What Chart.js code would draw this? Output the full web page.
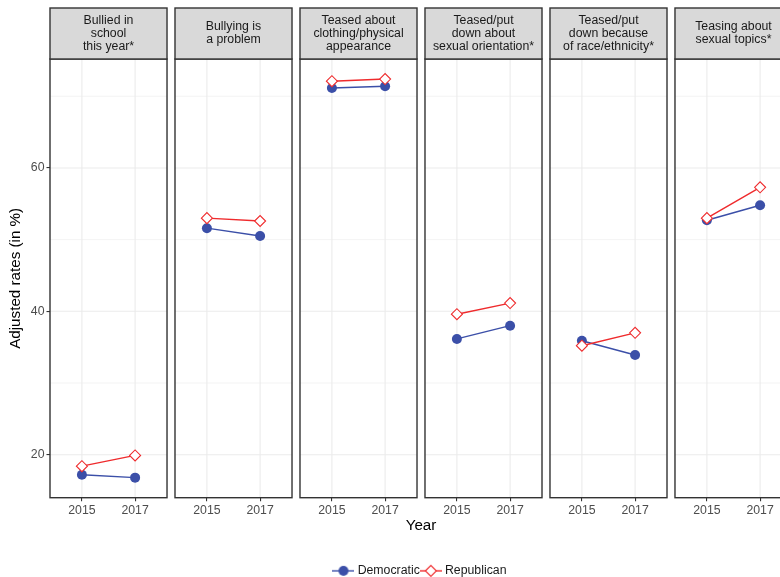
<!DOCTYPE html>
<html>
<head>
<meta charset="utf-8">
<script src="https://cdn.jsdelivr.net/npm/chart.js@4/dist/chart.umd.min.js"></script>
<style>
  html, body { margin: 0; padding: 0; background: #ffffff; overflow: hidden; }
  #wrap { position: relative; width: 792px; height: 577px; }
</style>
</head>
<body>
<div id="wrap"><canvas id="c" width="792" height="577"></canvas></div>
<script>
// ---- data ----
const panelTitles = [
  ["Bullied in", "school", "this year*"],
  ["Bullying is", "a problem"],
  ["Teased about", "clothing/physical", "appearance"],
  ["Teased/put", "down about", "sexual orientation*"],
  ["Teased/put", "down because", "of race/ethnicity*"],
  ["Teasing about", "sexual topics*"]
];
const years = ["2015", "2017"];
const democratic2015 = [17.2, 51.6, 71.15, 36.15, 35.9, 52.7];
const democratic2017 = [16.8, 50.5, 71.4, 38.0, 33.9, 54.8];
const republican2015 = [18.4, 53.0, 72.1, 39.6, 35.2, 53.0];
const republican2017 = [19.9, 52.6, 72.4, 41.15, 37.0, 57.3];
const yMajorTicks = [20, 40, 60];
const yMinorGrid = [30, 50, 70];
const seriesNames = ["Democratic", "Republican"];

// ---- layout in x data units (each panel is a discrete axis 0.4..2.6 shifted) ----
const PANEL_W = 2.2, PANEL_STEP = 2.35, POS = [0.6, 1.6];
const FONT = "'Liberation Sans', Arial, Helvetica, sans-serif";
const SMALL = 12.3, BIG = 15.2;
const BLUE = '#3b4fa8', RED = '#ef2b2d';

function seriesData(v15, v17) {
  const out = [];
  for (let i = 0; i < v15.length; i++) {
    out.push({x: i * PANEL_STEP + POS[0], y: v15[i]});
    out.push({x: i * PANEL_STEP + POS[1], y: v17[i]});
    out.push({x: i * PANEL_STEP + 2.0, y: null});
  }
  return out;
}
const xTickValues = [];
panelTitles.forEach((_, i) => { xTickValues.push(i * PANEL_STEP + POS[0], i * PANEL_STEP + POS[1]); });

function legendImg(color, kind) {
  const c = document.createElement('canvas');
  c.width = 22; c.height = 14;
  const g = c.getContext('2d');
  g.strokeStyle = color; g.lineWidth = 1.4;
  g.beginPath(); g.moveTo(0, 7); g.lineTo(22, 7); g.stroke();
  if (kind === 'circle') {
    g.fillStyle = color; g.beginPath(); g.arc(11, 7, 5, 0, Math.PI * 2); g.fill();
  } else {
    g.fillStyle = '#fff'; g.lineWidth = 1.1;
    g.beginPath(); g.moveTo(5.5, 7); g.lineTo(11, 1.5); g.lineTo(16.5, 7); g.lineTo(11, 12.5); g.closePath();
    g.fill(); g.stroke();
  }
  return c;
}
const legendImgs = [legendImg(BLUE, 'circle'), legendImg(RED, 'diamond')];

const facetPlugin = {
  id: 'facets',
  beforeDatasetsDraw(chart) {
    const {ctx, chartArea: a, scales: {x, y}} = chart;
    ctx.save();
    panelTitles.forEach((_, i) => {
      const l = x.getPixelForValue(i * PANEL_STEP), r = x.getPixelForValue(i * PANEL_STEP + PANEL_W);
      ctx.save();
      ctx.beginPath(); ctx.rect(l, a.top, r - l, a.bottom - a.top); ctx.clip();
      ctx.strokeStyle = '#ebebeb';
      ctx.lineWidth = 0.6;
      yMinorGrid.forEach(v => { const p = y.getPixelForValue(v); ctx.beginPath(); ctx.moveTo(l, p); ctx.lineTo(r, p); ctx.stroke(); });
      ctx.lineWidth = 1.1;
      yMajorTicks.forEach(v => { const p = y.getPixelForValue(v); ctx.beginPath(); ctx.moveTo(l, p); ctx.lineTo(r, p); ctx.stroke(); });
      POS.forEach(v => { const p = x.getPixelForValue(i * PANEL_STEP + v); ctx.beginPath(); ctx.moveTo(p, a.top); ctx.lineTo(p, a.bottom); ctx.stroke(); });
      ctx.restore();
    });
    ctx.restore();
  },
  afterDatasetsDraw(chart) {
    const {ctx, chartArea: a, scales: {x}} = chart;
    ctx.save();
    const stripTop = 8;
    panelTitles.forEach((lines, i) => {
      const l = x.getPixelForValue(i * PANEL_STEP), r = x.getPixelForValue(i * PANEL_STEP + PANEL_W);
      ctx.strokeStyle = '#333333'; ctx.lineWidth = 1.4;
      ctx.strokeRect(l, a.top, r - l, a.bottom - a.top);
      ctx.fillStyle = '#d9d9d9';
      ctx.fillRect(l, stripTop, r - l, a.top - stripTop);
      ctx.strokeRect(l, stripTop, r - l, a.top - stripTop);
      ctx.fillStyle = '#1a1a1a';
      ctx.font = SMALL + 'px ' + FONT;
      ctx.textAlign = 'center'; ctx.textBaseline = 'middle';
      const mid = (stripTop + a.top) / 2, cx = (l + r) / 2;
      lines.forEach((t, k) => ctx.fillText(t, cx, mid + (k - (lines.length - 1) / 2) * 13));
    });
    ctx.restore();
  }
};

new Chart(document.getElementById('c'), {
  type: 'line',
  data: {
    datasets: [
      {label: seriesNames[0], data: seriesData(democratic2015, democratic2017), borderColor: BLUE, backgroundColor: BLUE,
       borderWidth: 1.4, pointStyle: 'circle', pointRadius: 5, pointBorderWidth: 0, pointBackgroundColor: BLUE, spanGaps: false, order: 2},
      {label: seriesNames[1], data: seriesData(republican2015, republican2017), borderColor: RED, backgroundColor: '#ffffff',
       borderWidth: 1.4, pointStyle: 'rectRot', pointRadius: 5.5, pointBorderWidth: 1.1, pointBackgroundColor: '#ffffff', pointBorderColor: RED, spanGaps: false, order: 1}
    ]
  },
  options: {
    responsive: false, animation: false, devicePixelRatio: 1,
    layout: {autoPadding: false, padding: {top: 59, left: 0, right: 0, bottom: -10}},
    plugins: {
      tooltip: {enabled: false},
      legend: {
        position: 'bottom', fullSize: false,
        labels: {
          usePointStyle: true, pointStyleWidth: 16, boxHeight: 12, padding: 3,
          color: '#1a1a1a', font: {family: FONT, size: SMALL},
          generateLabels: () => seriesNames.map((n, k) => ({text: n, pointStyle: legendImgs[k], fillStyle: 'transparent', strokeStyle: 'transparent', lineWidth: 0, datasetIndex: k, fontColor: '#1a1a1a'}))
        }
      }
    },
    scales: {
      x: {
        type: 'linear', min: 0, max: 5 * PANEL_STEP + PANEL_W, bounds: 'data',
        afterBuildTicks: s => { s.ticks = xTickValues.map(v => ({value: v})); },
        afterFit: s => { s.height = 64; s.paddingLeft = 0; s.paddingRight = 0; },
        ticks: {autoSkip: false, maxRotation: 0, padding: 2, color: '#4d4d4d', font: {family: FONT, size: SMALL},
                callback: (v, idx) => years[idx % 2]},
        grid: {drawOnChartArea: false, drawTicks: true, tickLength: 3.5, color: '#333333', lineWidth: 1.1},
        border: {display: false},
        title: {display: true, text: 'Year', color: '#000', font: {family: FONT, size: BIG}, padding: {top: 0, bottom: 27}}
      },
      y: {
        type: 'linear', min: 14.0, max: 75.2, bounds: 'data',
        afterBuildTicks: s => { s.ticks = yMajorTicks.map(v => ({value: v})); },
        afterFit: s => { s.width = 50; s.paddingTop = 0; s.paddingBottom = 0; },
        ticks: {padding: 2, color: '#4d4d4d', font: {family: FONT, size: SMALL}},
        grid: {drawOnChartArea: false, drawTicks: true, tickLength: 3.5, color: '#333333', lineWidth: 1.1},
        border: {display: false},
        title: {display: true, text: 'Adjusted rates (in %)', color: '#000', font: {family: FONT, size: BIG}, padding: {top: 7, bottom: 0}}
      }
    }
  },
  plugins: [facetPlugin]
});
</script>
</body>
</html>
